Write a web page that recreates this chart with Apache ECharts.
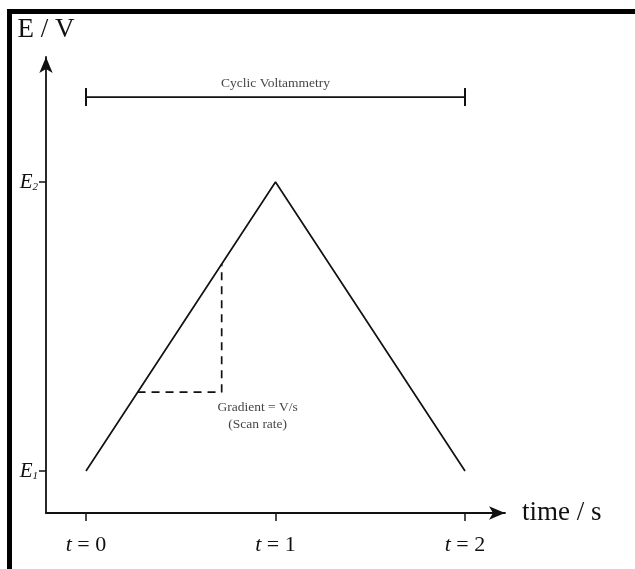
<!DOCTYPE html>
<html>
<head>
<meta charset="utf-8">
<script src="https://cdn.jsdelivr.net/npm/echarts@6/dist/echarts.min.js"></script>
<style>
  html, body { margin: 0; padding: 0; background: #fff; }
  #chart { width: 635px; height: 569px; }
</style>
</head>
<body>
<div id="chart"></div>
<script>
// potential waveform of one CV cycle (E1 = 0, E2 = 1 in axis units)
const scanTime = [0, 1, 2]
const scanPotential = [0, 1, 0]
// dashed gradient triangle
const slopeTime = [0.272, 0.716, 0.716]
const slopePotential = [0.273, 0.273, 0.716]
// bracket over the cycle
const bracketTime = [0, 2]
const bracketLevel = 1.294
const timeTicks = [0, 1, 2]
const potentialTicks = [0, 1]
const potentialNames = ['1', '2']

const serif = 'Liberation Serif, Times New Roman, serif'
const ink = '#111'

const chart = echarts.init(document.getElementById('chart'))

const option = {
  animation: false,
  grid: { left: 46, right: 130, top: 57, bottom: 56 },
  graphic: [
    { type: 'rect', shape: { x: 7, y: 9, width: 628, height: 5 }, style: { fill: '#000' } },
    { type: 'rect', shape: { x: 7, y: 9, width: 5, height: 560 }, style: { fill: '#000' } }
  ],
  xAxis: {
    type: 'value',
    min: -0.211,
    max: 2.211,
    splitLine: { show: false },
    name: 'time / s',
    nameLocation: 'end',
    nameGap: 17,
    nameTextStyle: { fontFamily: serif, fontSize: 27, color: ink, verticalAlign: 'middle' },
    axisLine: { onZero: false, lineStyle: { color: ink, width: 1.8 }, symbol: ['none', 'arrow'], symbolSize: [10, 16] },
    axisTick: { customValues: timeTicks, length: 8, lineStyle: { color: ink, width: 1.5 } },
    axisLabel: {
      customValues: timeTicks,
      margin: 21,
      formatter: v => '{i|t} = ' + v,
      fontFamily: serif,
      fontSize: 22,
      color: ink,
      rich: { i: { fontFamily: serif, fontStyle: 'italic', fontSize: 22, color: ink } }
    }
  },
  yAxis: {
    type: 'value',
    min: -0.145,
    max: 1.4325,
    splitLine: { show: false },
    name: 'E / V',
    nameLocation: 'end',
    nameGap: 14,
    nameTextStyle: { fontFamily: serif, fontSize: 27, color: ink, align: 'center' },
    axisLine: { onZero: false, lineStyle: { color: ink, width: 1.8 }, symbol: ['none', 'arrow'], symbolSize: [10, 16] },
    axisTick: { customValues: potentialTicks, length: 7, lineStyle: { color: ink, width: 1.5 } },
    axisLabel: {
      customValues: potentialTicks,
      margin: 8,
      formatter: v => '{e|E}{s|' + potentialNames[v] + '}',
      rich: {
        e: { fontFamily: serif, fontStyle: 'italic', fontSize: 21, color: ink },
        s: { fontFamily: serif, fontStyle: 'italic', fontSize: 11, color: ink, padding: [10, 0, 0, 0] }
      }
    }
  },
  series: [
    {
      type: 'line',
      data: scanTime.map((t, i) => [t, scanPotential[i]]),
      symbol: 'none',
      lineStyle: { color: ink, width: 1.7 }
    },
    {
      type: 'line',
      data: slopeTime.map((t, i) => [t, slopePotential[i]]),
      symbol: 'none',
      lineStyle: { color: ink, width: 1.7, type: [8, 6] }
    },
    {
      type: 'line',
      data: bracketTime.map(t => [t, bracketLevel]),
      symbol: 'rect',
      symbolSize: [2, 18],
      showSymbol: true,
      itemStyle: { color: ink },
      lineStyle: { color: ink, width: 1.7 }
    },
    {
      type: 'scatter',
      data: [[1, bracketLevel]],
      symbolSize: 0,
      label: {
        show: true,
        position: 'top',
        distance: 7,
        formatter: 'Cyclic Voltammetry',
        fontFamily: serif,
        fontSize: 13.5,
        color: ink
      }
    },
    {
      type: 'scatter',
      data: [[0.906, 0.19]],
      symbolSize: 0,
      label: {
        show: true,
        position: 'inside',
        formatter: 'Gradient = V/s\n(Scan rate)',
        fontFamily: serif,
        fontSize: 13.5,
        lineHeight: 17,
        align: 'center',
        color: ink
      }
    }
  ]
}

chart.setOption(option)
</script>
</body>
</html>
